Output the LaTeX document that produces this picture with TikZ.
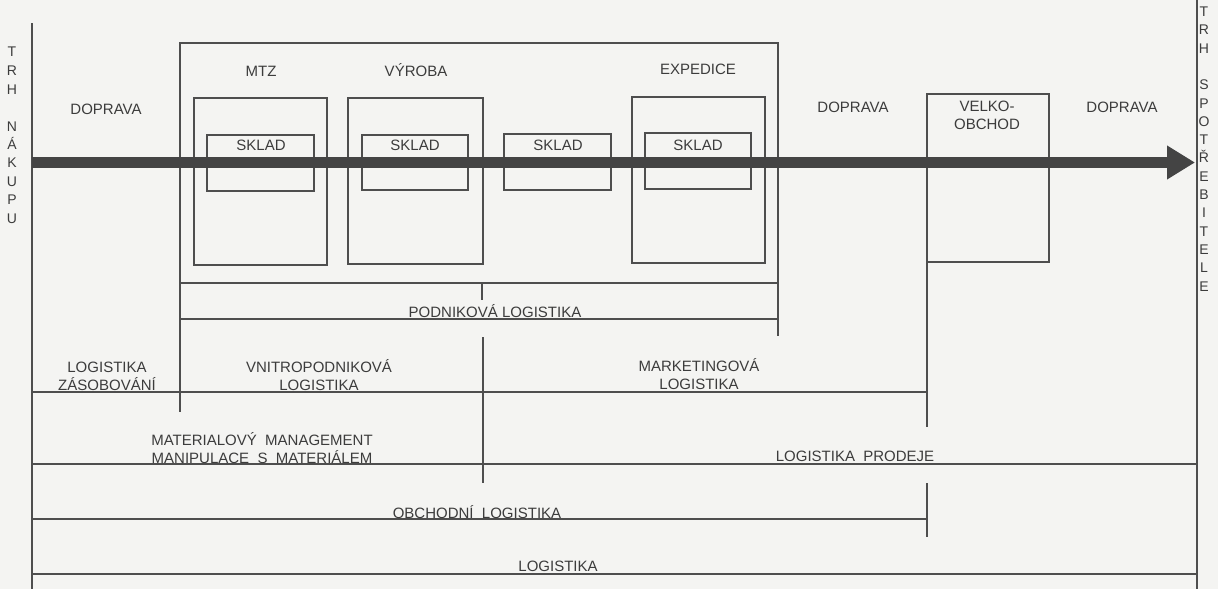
\documentclass[tikz,border=0pt]{standalone}
\usepackage{fontspec}
\setmainfont{Liberation Sans}
\usetikzlibrary{arrows.meta,fit}
\definecolor{paper}{RGB}{244,244,242}
\definecolor{ink}{RGB}{78,78,78}
\definecolor{flowink}{RGB}{68,68,68}
\definecolor{txt}{RGB}{60,60,60}
\begin{document}
\begin{tikzpicture}[x=1pt,y=-1pt,
  rule/.style={draw=ink,line width=1.6pt},
  box/.style={draw=ink,line width=2.2pt,inner sep=0pt,outer sep=0pt,rectangle},
  lbl/.style={text=txt,font=\fontsize{15}{18}\selectfont,inner sep=0pt,align=center},
  vlbl/.style={text=txt,inner sep=0pt,align=center},
  flow/.style={draw=flowink,line width=11.5pt,-{Triangle[length=28pt,width=32pt]}}]
\fill[paper] (0,0) rectangle (1218,589);
\useasboundingbox (0,0) rectangle (1218,589);

% boxes
\node[box,line width=1.8pt,fit={(180,43)(778,283)}] (podnik) {};
\node[box,fit={(194,98)(327,265)}] (mtz) {};
\node[box,fit={(207,135)(314,191)}] (sklad1) {};
\node[box,fit={(348,98)(483,264)}] (vyroba) {};
\node[box,fit={(362,135)(468,190)}] (sklad2) {};
\node[box,fit={(504,134)(611,190)}] (sklad3) {};
\node[box,fit={(632,97)(765,263)}] (exped) {};
\node[box,line width=2.8pt,fit={(645,133)(751,189)}] (sklad4) {};
\node[box,fit={(927,94)(1049,262)}] (velko) {};

% coordinates for rules
\coordinate (L0) at (32,23);   \coordinate (L1) at (32,589);
\coordinate (R0) at (1197,0);  \coordinate (R1) at (1197,589);
\coordinate (pL) at (180,412);
\coordinate (pR) at (778,336);
\coordinate (t0) at (482,283); \coordinate (t1) at (482,300);
\coordinate (b1a) at (180,319); \coordinate (b1b) at (778,319);
\coordinate (m0) at (483,337); \coordinate (m1) at (483,483);
\coordinate (h1a) at (32,392); \coordinate (h1b) at (927,392);
\coordinate (v1) at (927,427);
\coordinate (h2a) at (32,464); \coordinate (h2b) at (1197,464);
\coordinate (v2a) at (927,483); \coordinate (v2b) at (927,537);
\coordinate (h3a) at (32,519); \coordinate (h3b) at (927,519);
\coordinate (h4a) at (32,574); \coordinate (h4b) at (1197,574);

\draw[rule] (L0) -- (L1);
\draw[rule] (R0) -- (R1);
\draw[rule] (podnik.south west) -- (pL);
\draw[rule] (podnik.south east) -- (pR);
\draw[rule] (t0) -- (t1);
\draw[rule] (b1a) -- (b1b);
\draw[rule] (m0) -- (m1);
\draw[rule] (h1a) -- (h1b);
\draw[rule] (velko.south west) -- (v1);
\draw[rule] (h2a) -- (h2b);
\draw[rule] (v2a) -- (v2b);
\draw[rule] (h3a) -- (h3b);
\draw[rule] (h4a) -- (h4b);

% main flow arrow
\coordinate (fs) at (32,162.5);
\coordinate (fe) at (1195,162.5);
\draw[flow] (fs) -- (fe);

% labels
\node[vlbl,font=\fontsize{14}{18.5}\selectfont] (trhn) at (12,135.5) {T\\R\\H\\[18.5pt]N\\Á\\K\\U\\P\\U};
\node[vlbl,font=\fontsize{14}{18.3}\selectfont] (trhs) at (1204,149) {T\\R\\H\\[18.3pt]S\\P\\O\\T\\Ř\\E\\B\\I\\T\\E\\L\\E};

\node[lbl] (dop1) at (106,109) {DOPRAVA};
\node[lbl] (tmtz) at (261,71) {MTZ};
\node[lbl] (tvyr) at (416,70) {VÝROBA};
\node[lbl] (texp) at (698,69) {EXPEDICE};
\node[lbl] (ts1) at (261,145) {SKLAD};
\node[lbl] (ts2) at (415,145) {SKLAD};
\node[lbl] (ts3) at (558,145) {SKLAD};
\node[lbl] (ts4) at (698,145) {SKLAD};
\node[lbl] (dop2) at (853,107) {DOPRAVA};
\node[lbl] (tvel) at (987,115) {VELKO-\\OBCHOD};
\node[lbl] (dop3) at (1122,107) {DOPRAVA};
\node[lbl] (tpod) at (495,311) {PODNIKOVÁ LOGISTIKA};
\node[lbl] (tzas) at (107,376) {LOGISTIKA\\ZÁSOBOVÁNÍ};
\node[lbl] (tvni) at (319,375) {VNITROPODNIKOVÁ\\LOGISTIKA};
\node[lbl] (tmar) at (699,374) {MARKETINGOVÁ\\LOGISTIKA};
\node[lbl] (tmat) at (262,448) {MATERIALOVÝ\ \ MANAGEMENT\\MANIPULACE\ \ S\ \ MATERIÁLEM};
\node[lbl] (tpro) at (855,456) {LOGISTIKA\ \ PRODEJE};
\node[lbl] (tobc) at (477,512) {OBCHODNÍ\ \ LOGISTIKA};
\node[lbl] (tlog) at (558,566) {LOGISTIKA};
\end{tikzpicture}
\end{document}
